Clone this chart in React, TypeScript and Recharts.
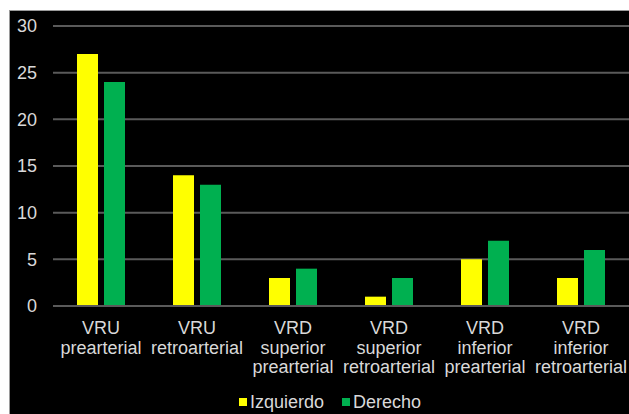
import React from 'react';
import { BarChart, Bar, XAxis, YAxis, CartesianGrid, Legend } from 'recharts';

const categories = [
  'VRU\nprearterial',
  'VRU\nretroarterial',
  'VRD\nsuperior\nprearterial',
  'VRD\nsuperior\nretroarterial',
  'VRD\ninferior\nprearterial',
  'VRD\ninferior\nretroarterial',
];
const izquierdo = [27, 14, 3, 1, 5, 3];
const derecho = [24, 13, 4, 3, 7, 6];
const yTicks = [0, 5, 10, 15, 20, 25, 30];

const data = categories.map((c, i) => ({ name: c, izquierdo: izquierdo[i], derecho: derecho[i] }));

const FONT = '"Liberation Sans", Arial, sans-serif';
const TEXT = '#d9d9d9';
const YELLOW = '#ffff00';
const GREEN = '#00b050';

const CatTick = (props: any) => {
  const { x, y, payload } = props;
  const lines = String(payload.value).split('\n');
  return (
    <text x={x} y={y} textAnchor="middle" fill={TEXT} fontSize={18} fontFamily={FONT}>
      {lines.map((l, i) => (
        <tspan key={i} x={x} dy={i === 0 ? 28 : 19.5}>{l}</tspan>
      ))}
    </text>
  );
};

const LegendContent = () => (
  <div style={{ display: 'flex', justifyContent: 'center', alignItems: 'center', height: 22, paddingLeft: 21, fontFamily: FONT, fontSize: 18, color: TEXT }}>
    <span style={{ display: 'inline-block', width: 8, height: 8, background: YELLOW, marginRight: 3 }} />
    <span style={{ marginRight: 18 }}>Izquierdo</span>
    <span style={{ display: 'inline-block', width: 8, height: 8, background: GREEN, marginRight: 3 }} />
    <span>Derecho</span>
  </div>
);

export default function App() {
  return (
    <div style={{ position: 'absolute', left: 0, top: 0, width: 629, height: 414, background: '#fff', overflow: 'hidden' }}>
      <div style={{ position: 'absolute', left: 9, top: 10, width: 619, height: 403, background: '#000', borderTop: '1px solid #9a9a9a', borderLeft: '1px solid #9a9a9a' }}>
        <BarChart width={619} height={403} data={data} margin={{ top: 15, right: 0, left: 0, bottom: 1 }} barCategoryGap="25%" barGap={6}>
          <CartesianGrid vertical={false} stroke="#5a5a5a" strokeWidth={2} />
          <XAxis dataKey="name" axisLine={{ stroke: '#5a5a5a', strokeWidth: 2 }} tickLine={false} tickSize={0} tickMargin={0} height={85} interval={0} tick={<CatTick />} />
          <YAxis domain={[0, 30]} ticks={yTicks} axisLine={false} tickLine={false} tickSize={0} tickMargin={16} width={43} tick={{ fill: TEXT, fontSize: 18, fontFamily: FONT }} />
          <Legend verticalAlign="bottom" content={<LegendContent />} />
          <Bar dataKey="izquierdo" name="Izquierdo" fill={YELLOW} isAnimationActive={false} />
          <Bar dataKey="derecho" name="Derecho" fill={GREEN} isAnimationActive={false} />
        </BarChart>
      </div>
    </div>
  );
}
